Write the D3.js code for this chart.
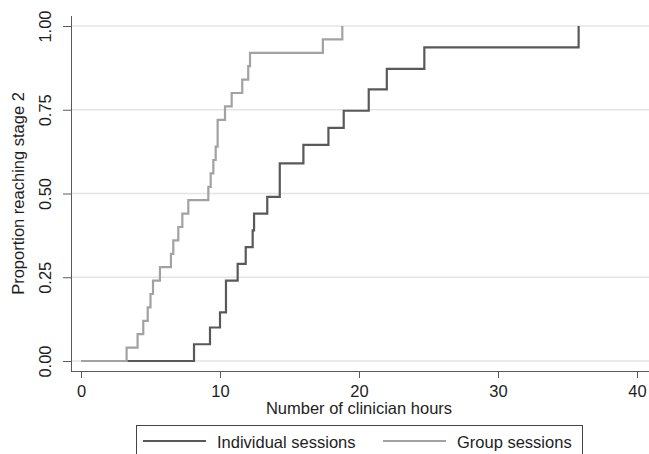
<!DOCTYPE html>
<html>
<head>
<meta charset="utf-8">
<script src="https://cdn.jsdelivr.net/npm/d3@7"></script>
<style>
  body { margin: 0; background: #fff; }
  svg text { font-family: "Liberation Sans", Arial, sans-serif; fill: #1e1e1e; }
</style>
</head>
<body>
<div id="chart"></div>
<script>
// Kaplan-Meier style steps
const indivHours = [0, 8.13, 9.28, 10.0, 10.43, 11.27, 11.85, 12.35, 12.45, 13.4, 14.3, 16.0, 17.8, 18.9, 20.7, 22.0, 24.7, 35.8];
const indivProp  = [0, 0.05, 0.10, 0.145, 0.24, 0.29, 0.34, 0.39, 0.44, 0.49, 0.59, 0.645, 0.696, 0.747, 0.811, 0.872, 0.936, 1.0];

const groupHours = [0, 3.28, 4.07, 4.48, 4.8, 5.0, 5.18, 5.68, 6.47, 6.64, 7.0, 7.29, 7.72, 9.16, 9.33, 9.52, 9.69, 9.83, 10.36, 10.84, 11.6, 12.03, 12.16, 17.4, 18.8];
const groupProp  = [0, 0.04, 0.08, 0.12, 0.16, 0.20, 0.24, 0.28, 0.32, 0.36, 0.40, 0.44, 0.48, 0.52, 0.56, 0.60, 0.64, 0.72, 0.76, 0.80, 0.84, 0.88, 0.92, 0.96, 1.00];

const xTicks = [0, 10, 20, 30, 40];
const yTicks = [0, 0.25, 0.5, 0.75, 1];
const seriesNames = ["Individual sessions", "Group sessions"];

const W = 649, H = 454;
const margin = { top: 16, right: 0, bottom: 83, left: 71 };

const svg = d3.select("#chart")
    .append("svg")
    .attr("width", W)
    .attr("height", H);

const x = d3.scaleLinear()
    .domain([0, 40])
    .range([margin.left + 10, W - 12]);

const y = d3.scaleLinear()
    .domain([0, 1])
    .range([H - margin.bottom - 10, margin.top + 10]);

const axisY = H - margin.bottom;

// gridlines
svg.append("g")
    .selectAll("line")
    .data(yTicks)
    .join("line")
    .attr("x1", margin.left + 1)
    .attr("x2", W)
    .attr("y1", d => y(d))
    .attr("y2", d => y(d))
    .attr("stroke", "#e4e4e4")
    .attr("stroke-width", 1.6);

// x axis
const gx = svg.append("g")
    .attr("transform", `translate(0,${axisY})`)
    .call(d3.axisBottom(x).tickValues(xTicks).tickSize(7).tickPadding(7.5).tickSizeOuter(0));
gx.select(".domain").attr("d", `M${margin.left},0.5H${W}`);
gx.selectAll("line").attr("stroke", "#5a5a5a");
gx.select(".domain").attr("stroke", "#5a5a5a");
gx.selectAll("text").style("font-size", "16.5px").attr("fill", "#1e1e1e");

// y axis
const gy = svg.append("g")
    .attr("transform", `translate(${margin.left},0)`)
    .call(d3.axisLeft(y).tickValues(yTicks).tickSize(8).tickFormat(d3.format(".2f")).tickSizeOuter(0));
gy.select(".domain").attr("d", `M0.5,${margin.top}V${axisY}`).attr("stroke", "#5a5a5a");
gy.selectAll("line").attr("stroke", "#5a5a5a");
gy.selectAll("text")
    .attr("x", 0)
    .attr("dy", null)
    .attr("text-anchor", "middle")
    .attr("transform", "translate(-20,0) rotate(-90)")
    .style("font-size", "16.5px")
    .attr("fill", "#1e1e1e");

// axis titles
svg.append("text")
    .attr("x", (x.range()[0] + x.range()[1]) / 2)
    .attr("y", 414)
    .attr("text-anchor", "middle")
    .style("font-size", "16.5px")
    .text("Number of clinician hours");

svg.append("text")
    .attr("transform", `translate(24,${(y.range()[0] + y.range()[1]) / 2}) rotate(-90)`)
    .attr("text-anchor", "middle")
    .style("font-size", "16.5px")
    .text("Proportion reaching stage 2");

// step lines
const step = d3.line()
    .x(d => x(d[0]))
    .y(d => y(d[1]))
    .curve(d3.curveStepAfter);

const series = [
    { name: seriesNames[0], pts: d3.zip(indivHours, indivProp), color: "#595959" },
    { name: seriesNames[1], pts: d3.zip(groupHours, groupProp), color: "#a2a2a2" }
];

svg.append("g")
    .selectAll("path")
    .data(series)
    .join("path")
    .attr("d", d => step(d.pts))
    .attr("fill", "none")
    .attr("stroke", d => d.color)
    .attr("stroke-width", 2.2);

// legend
const legend = svg.append("g");
legend.append("rect")
    .attr("x", 136.5)
    .attr("y", 425.5)
    .attr("width", 446)
    .attr("height", 40)
    .attr("fill", "#fff")
    .attr("stroke", "#444")
    .attr("stroke-width", 1);

const legendX = [143, 383];
const items = legend.selectAll("g.item")
    .data(series)
    .join("g")
    .attr("class", "item")
    .attr("transform", (d, i) => `translate(${legendX[i]},0)`);

items.append("line")
    .attr("x1", 0)
    .attr("x2", 63)
    .attr("y1", 441)
    .attr("y2", 441)
    .attr("stroke", d => d.color)
    .attr("stroke-width", 2.2);

items.append("text")
    .attr("x", 74)
    .attr("y", 448)
    .style("font-size", "16.5px")
    .text(d => d.name);
</script>
</body>
</html>
